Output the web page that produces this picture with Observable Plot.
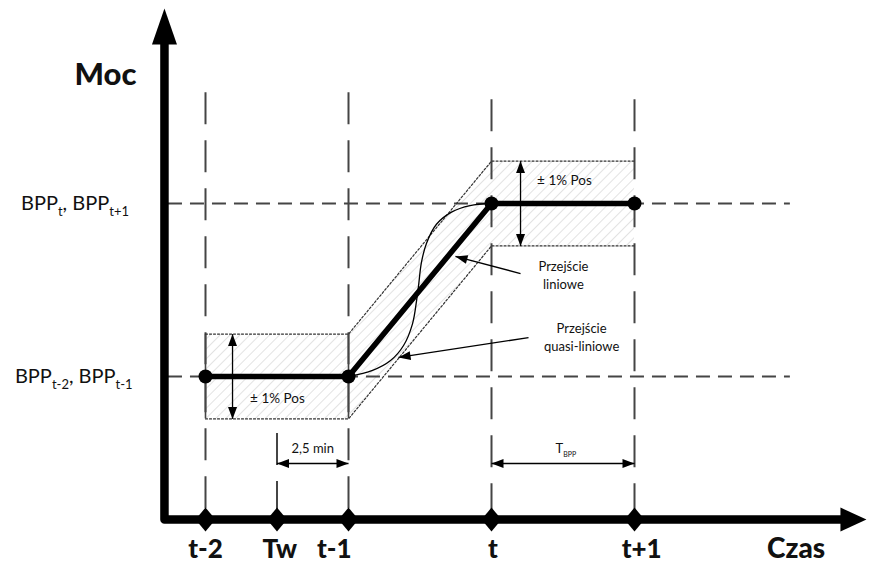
<!DOCTYPE html>
<html>
<head>
<meta charset="utf-8">
<script src="https://cdn.jsdelivr.net/npm/d3@7"></script>
<script src="https://cdn.jsdelivr.net/npm/@observablehq/plot@0.6"></script>
<style>
  html, body { margin: 0; padding: 0; background: #fff; }
</style>
</head>
<body>
<div id="chart"></div>
<script>
// ---------- data (time in periods, power in BPP level units) ----------
const periodLabels = ["t-2", "Tw", "t-1", "t", "t+1"];
const periodX = [0, 0.5, 1, 2, 3];
const periodLabelX = [0, 0.52, 0.9, 2.01, 3.05];
const guideTop = [1.64, -0.33, 1.64, 1.6, 1.6];

const bppX = [0, 1, 2, 3];
const bppY = [0, 0, 1, 1];
const tolerance = 0.245;

const levelY = [0, 1];
const levelLabels = ["BPP_{t-2}, BPP_{t-1}", "BPP_{t}, BPP_{t+1}"];
const levelLabelX = [-0.51, -0.535];

// quasi-linear transition
const quasiX = [1.0, 1.168, 1.294, 1.385, 1.448, 1.476, 1.49, 1.51, 1.545, 1.615, 1.72, 1.85, 2.0];
const quasiY = [0, 0.035, 0.092, 0.179, 0.306, 0.439, 0.526, 0.659, 0.769, 0.88, 0.95, 0.988, 1.0];

const tolArrowX = [0.189, 2.203];
const tolLabel = "± 1% Pos";
const tolLabelX = [0.503, 2.51];
const tolLabelY = [-0.127, 1.133];

const dimFrom = [0.5, 2];
const dimTo = [1, 3];
const dimLabels = ["2,5 min", "T_{BPP}"];
const dimLabelX = [0.75, 2.52];

const noteLabels = ["Przejście\nliniowe", "Przejście\nquasi-liniowe"];
const noteX = [2.503, 2.63];
const noteY = [0.59, 0.231];
const noteFromX = [2.203, 2.259];
const noteFromY = [0.595, 0.225];
const noteToX = [1.748, 1.35];
const noteToY = [0.694, 0.11];

// ---------- layout ----------
const W = 873, H = 564;
const xDom = [-1.4336, 4.6713];
const yDom = [-1.0867, 2.1734];
const kx = W / (xDom[1] - xDom[0]);
const ky = H / (yDom[1] - yDom[0]);
const axisX = -0.287;
const axisY = -0.827;
const dimY = -0.503;

function angle(x1, y1, x2, y2) {
  return Math.atan2(-(y2 - y1) * ky, (x2 - x1) * kx) * 180 / Math.PI + 90;
}
function head(len, wid) {
  return {draw(c) { c.moveTo(0, 0); c.lineTo(wid / 2, len); c.lineTo(-wid / 2, len); c.closePath(); }};
}
const diamond = {draw(c) { c.moveTo(0, -12); c.lineTo(10, 0); c.lineTo(0, 12); c.lineTo(-10, 0); c.closePath(); }};

const bpp = bppX.map((x, i) => ({x, y: bppY[i], lo: bppY[i] - tolerance, hi: bppY[i] + tolerance}));
const quasi = quasiX.map((x, i) => ({x, y: quasiY[i]}));
const guides = periodX.map((x, i) => ({x, top: guideTop[i]}));

// arrow segments
const segs = [];
const heads = [];
tolArrowX.forEach((x, i) => {
  const c = levelY[i];
  segs.push({x1: x, y1: c - tolerance, x2: x, y2: c + tolerance});
  heads.push({x, y: c + tolerance, r: 0});
  heads.push({x, y: c - tolerance, r: 180});
});
dimFrom.forEach((a, i) => {
  const b = dimTo[i];
  segs.push({x1: a, y1: dimY, x2: b, y2: dimY});
  heads.push({x: a, y: dimY, r: 270});
  heads.push({x: b, y: dimY, r: 90});
});
noteX.forEach((_, i) => {
  segs.push({x1: noteFromX[i], y1: noteFromY[i], x2: noteToX[i], y2: noteToY[i]});
  heads.push({x: noteToX[i], y: noteToY[i], r: angle(noteFromX[i], noteFromY[i], noteToX[i], noteToY[i])});
});

const axisPath = [
  {x: axisX, y: 1.92},
  {x: axisX, y: axisY},
  {x: 4.46, y: axisY}
];

const plot = Plot.plot({
  width: W,
  height: H,
  margin: 0,
  x: {domain: xDom, range: [0, W], axis: null},
  y: {domain: yDom, range: [H, 0], axis: null},
  style: {fontFamily: "Lato, 'Open Sans', sans-serif", fontSize: "13px", background: "#fff", color: "#000"},
  marks: [
    // tolerance band (hatched)
    Plot.areaY(bpp, {x: "x", y1: "lo", y2: "hi", fill: "url(#hatch)"}),
    // dashed level lines
    Plot.ruleY(levelY, {y: d => d, x1: () => -0.259, x2: () => 4.09, stroke: "#454545", strokeWidth: 2, strokeDasharray: "14,8"}),
    // dashed period guides
    Plot.ruleX(guides, {x: "x", y1: "top", y2: () => axisY, stroke: "#454545", strokeWidth: 2, strokeDasharray: "32,16"}),
    // lower box sides
    Plot.ruleX([bppX[0], bppX[1]], {x: d => d, y1: () => -tolerance, y2: () => tolerance, stroke: "#454545", strokeWidth: 1.6}),
    // dotted band edges
    Plot.line(bpp, {x: "x", y: "hi", stroke: "#333", strokeWidth: 1.2, strokeDasharray: "2,2"}),
    Plot.line(bpp, {x: "x", y: "lo", stroke: "#333", strokeWidth: 1.2, strokeDasharray: "2,2"}),
    // quasi-linear transition
    Plot.line(quasi, {x: "x", y: "y", curve: "catmull-rom", stroke: "#000", strokeWidth: 1.3}),
    // BPP schedule
    Plot.line(bpp, {x: "x", y: "y", stroke: "#000", strokeWidth: 5.5}),
    Plot.dot(bpp, {x: "x", y: "y", r: 7, fill: "#000", stroke: "none"}),
    // thin arrows
    Plot.link(segs, {x1: "x1", y1: "y1", x2: "x2", y2: "y2", stroke: "#000", strokeWidth: 1.3}),
    Plot.dot(heads, {x: "x", y: "y", rotate: "r", symbol: head(12, 9), fill: "#000", stroke: "none"}),
    // texts
    Plot.text(tolLabelX, {x: d => d, y: (d, i) => tolLabelY[i], text: () => tolLabel, fontSize: 13.5, fill: "#111"}),
    Plot.text(dimLabels, {x: (d, i) => dimLabelX[i], y: () => -0.418, text: d => d, fontSize: 13, fill: "#111"}),
    Plot.text(noteLabels, {x: (d, i) => noteX[i], y: (d, i) => noteY[i], text: d => d, fontSize: 13, lineHeight: 1.35, fill: "#111"}),
    Plot.text(levelLabels, {x: (d, i) => levelLabelX[i], y: (d, i) => levelY[i], text: d => d, textAnchor: "end", fontSize: 20, fill: "#111"}),
    // axes
    Plot.line(axisPath, {x: "x", y: "y", stroke: "#000", strokeWidth: 8.5, strokeLinejoin: "round"}),
    Plot.dot([{x: axisX, y: 2.127}], {x: "x", y: "y", symbol: head(36, 25), fill: "#000", stroke: "none"}),
    Plot.dot([{x: 4.622, y: axisY}], {x: "x", y: "y", rotate: () => 90, symbol: head(26, 24), fill: "#000", stroke: "none"}),
    Plot.dot(periodX, {x: d => d, y: () => axisY, symbol: diamond, fill: "#000", stroke: "none"}),
    Plot.text(periodLabels, {x: (d, i) => periodLabelX[i], y: () => -1.0, text: d => d, fontSize: 26, fontWeight: 900, fill: "#111"}),
    Plot.text(["Czas"], {x: () => 4.13, y: () => -1.0, text: d => d, fontSize: 28, fontWeight: 900, fill: "#111"}),
    Plot.text(["Moc"], {x: () => -0.699, y: () => 1.74, text: d => d, fontSize: 31, fontWeight: 900, fill: "#111"})
  ]
});

plot.insertAdjacentHTML("afterbegin",
  '<defs><pattern id="hatch" patternUnits="userSpaceOnUse" width="7" height="7" patternTransform="rotate(45)">' +
  '<rect width="7" height="7" fill="#fff"/>' +
  '<line x1="0" y1="0" x2="0" y2="7" stroke="#cfcfcf" stroke-width="1.2"/></pattern></defs>');

document.getElementById("chart").appendChild(plot);

// subscripts: "_{...}" -> smaller, lowered tspan
plot.querySelectorAll("text").forEach(t => {
  const s = t.textContent;
  if (!s.includes("_{")) return;
  const fs = parseFloat(getComputedStyle(t).fontSize) || 13;
  const sub = Math.round(fs * (fs < 16 ? 0.55 : 0.65));
  const shift = Math.round(fs * 0.28);
  const parts = s.split(/(_\{[^}]*\})/);
  t.textContent = "";
  let shifted = false;
  for (const p of parts) {
    if (!p) continue;
    const ts = document.createElementNS("http://www.w3.org/2000/svg", "tspan");
    if (p.startsWith("_{")) {
      ts.textContent = p.slice(2, -1);
      ts.setAttribute("font-size", sub);
      ts.setAttribute("dy", shift);
      shifted = true;
    } else {
      ts.textContent = p;
      if (shifted) { ts.setAttribute("dy", -shift); shifted = false; }
    }
    t.appendChild(ts);
  }
});
</script>
</body>
</html>
